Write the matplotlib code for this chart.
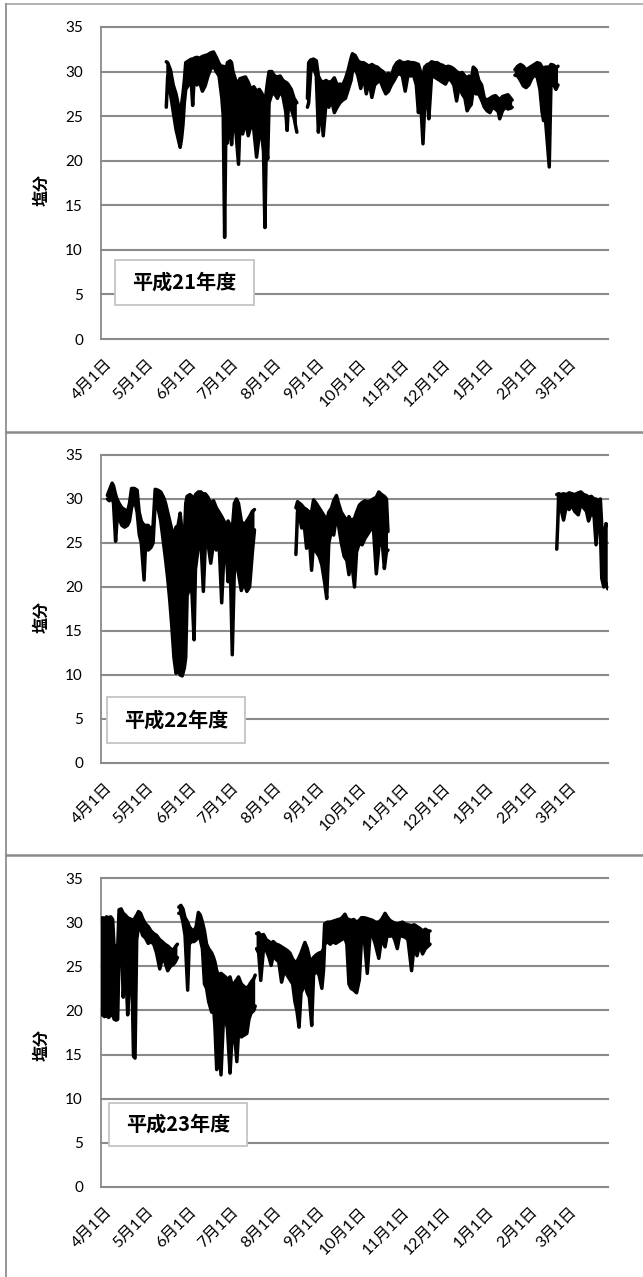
import numpy as np
import matplotlib
matplotlib.use('Agg')
import matplotlib.pyplot as plt
from matplotlib.transforms import ScaledTranslation
from matplotlib.patches import Rectangle
from matplotlib.lines import Line2D

plt.rcParams['font.family'] = ['Lato', 'Noto Sans CJK JP', 'DejaVu Sans']

nan = float('nan')

# ---------------- data ----------------
month_labels = ["4月1日", "5月1日", "6月1日", "7月1日", "8月1日", "9月1日",
                "10月1日", "11月1日", "12月1日", "1月1日", "2月1日", "3月1日"]
month_days = [0, 30, 61, 91, 122, 153, 183, 214, 244, 275, 306, 334]
yticks = [0, 5, 10, 15, 20, 25, 30, 35]
ylabel = "塩分"
year_labels = ["平成21年度", "平成22年度", "平成23年度"]

# days since Apr 1, upper / lower envelope of salinity (nan = no data)
h21_days = [47, 48, 50, 52, 54, 56, 57, 58, 59, 60, 61, 63, 65, 66, 67, 69, 71, 73, 75, 77,
            79, 81, 83, 85, 87, 88, 89, 90, 91, 93, 94, 95, 97, 99, 100, 102, 104, 106, 108,
            110, 112, 114, 116, 117, 118, 119, 120, 121, 123, 125, 127, 129, 131, 133, 134,
            135, 137, 139, 141, 145,
            148.6, 149.5, 151, 153, 155, 156.5, 158, 160, 162, 164, 166, 168, 170, 172, 174,
            176, 178, 180, 181, 183, 185, 187, 189, 191, 193, 195, 197, 199, 201, 203, 205,
            207, 209, 211, 213, 215, 217, 219, 221, 223, 225, 227, 228.5, 230, 231.8, 233,
            235, 236, 238, 240, 242, 244, 246, 248, 250, 252, 254, 256, 258, 260, 262, 263.6,
            265, 266.5, 268, 270, 272, 274, 276, 278, 280, 282, 284, 286, 287, 289, 291, 293,
            295, 296, 297,
            298, 300, 302, 304, 306, 308, 310, 312, 314, 316, 317.5, 318.6, 320, 322.7, 324,
            326, 327.5, 329]
h21_hi = [31.1, 31.0, 30.2, 28.5, 27.5, 26.0, 25.8, 26.3, 27.5, 29.0, 31.0, 31.2, 31.4, 31.3,
          31.5, 31.6, 31.5, 31.7, 31.8, 31.9, 32.1, 32.2, 31.6, 30.9, 30.5, 30.6, 30.5, 30.2,
          31.0, 31.2, 31.0, 30.0, 29.0, 28.8, 29.2, 29.3, 29.4, 28.8, 28.0, 28.3, 27.8, 28.0,
          27.5, 27.0, 26.5, 27.8, 29.0, 30.0, 30.0, 29.5, 29.4, 29.5, 29.0, 28.8, 28.7, 28.5,
          28.0, 27.0, 26.5, nan,
          27.0, 31.0, 31.3, 31.4, 31.2, 29.5, 29.0, 28.8, 29.0, 28.8, 28.9, 29.3, 28.5, 28.6,
          28.5, 29.2, 30.2, 31.5, 32.0, 31.8, 31.2, 31.0, 31.0, 30.8, 30.6, 30.8, 30.6, 30.5,
          30.2, 30.0, 29.6, 29.8, 29.5, 30.5, 31.0, 31.2, 31.0, 31.0, 31.1, 31.0, 31.0, 30.9,
          30.8, 30.0, 29.5, 30.5, 30.8, 30.8, 31.1, 31.0, 31.0, 30.8, 30.7, 30.5, 30.6, 30.5,
          30.3, 30.0, 29.8, 29.9, 29.5, 29.3, 29.5, 29.0, 30.5, 30.2, 29.0, 28.5, 27.0, 26.8,
          27.0, 27.2, 27.3, 27.0, 26.8, 27.2, 27.3, 27.4, 27.0, 26.8, nan,
          30.2, 30.6, 30.8, 30.6, 30.2, 30.4, 30.6, 30.8, 31.0, 30.9, 30.5, 30.3, 30.5, 30.5,
          30.8, 30.7, 30.4, 30.6]
h21_lo = [26.0, 29.5, 27.5, 25.5, 23.5, 22.2, 21.5, 22.5, 24.0, 26.5, 28.0, 28.5, 28.8, 26.2,
          29.0, 28.5, 28.8, 27.8, 28.4, 29.5, 30.3, 30.6, 30.0, 29.5, 27.0, 25.0, 11.4, 25.0,
          22.0, 25.0, 21.8, 24.0, 23.5, 19.6, 24.0, 23.0, 24.5, 22.8, 24.0, 23.5, 20.4, 23.0,
          22.5, 21.0, 12.5, 22.0, 20.2, 26.5, 27.5, 27.5, 27.0, 27.8, 27.2, 25.5, 23.4, 26.5,
          25.8, 24.8, 23.2, nan,
          26.0, 26.5, 30.0, 30.5, 29.5, 23.2, 26.5, 22.8, 26.5, 26.0, 26.8, 25.4, 26.0, 26.5,
          26.8, 27.0, 28.0, 29.0, 30.0, 30.4, 29.5, 28.1, 29.5, 27.5, 29.0, 27.1, 28.5, 28.8,
          29.0, 28.2, 27.5, 27.8, 28.5, 29.0, 29.6, 29.8, 29.5, 27.8, 29.6, 29.5, 29.6, 28.5,
          25.4, 27.0, 21.9, 26.0, 27.0, 24.7, 29.5, 29.4, 29.2, 29.0, 28.8, 28.6, 29.2, 29.0,
          28.5, 26.7, 28.5, 27.5, 27.0, 25.6, 26.0, 26.3, 28.0, 27.5, 27.5, 26.8, 26.0, 25.6,
          25.4, 26.0, 25.8, 25.5, 24.7, 25.6, 26.0, 25.8, 25.9, 26.0, nan,
          29.6, 29.5, 29.0, 28.4, 28.2, 28.5, 29.2, 29.6, 29.4, 28.0, 25.5, 24.5, 24.6, 19.3,
          29.0, 28.5, 28.0, 28.5]

h22_days = [4.6, 6, 8, 9, 10.5, 11.5, 13, 15, 17, 19, 20.5, 22, 24, 26, 27.5, 29, 31, 32, 34,
            36, 37.5, 39, 41, 43, 45, 46.5, 48, 49.5, 51, 52.5, 54, 55.5, 57, 58.5, 60, 61, 62,
            64, 65.5, 67, 68, 70, 72, 73.7, 75, 77, 79, 81, 83, 85, 86.9, 88.5, 90, 91.5, 93,
            94.5, 96, 97.5, 99, 101, 103, 105, 107, 109, 110.5, 120,
            140.3, 141.5, 143, 144.5, 146, 148, 150, 151.6, 153, 155, 157, 159, 161, 162.5,
            164, 166, 167.5, 169.5, 171, 173, 175, 177, 178.5, 180, 182.5, 184, 186, 188, 190,
            192, 194, 196, 198.2, 200, 202, 204, 205.5, 206.6, 250,
            328.1, 329.5, 331, 333, 335, 337, 339, 341, 343.6, 345.5, 347.5, 349.5, 351, 353,
            355, 356.4, 358, 359.5, 360.5, 362, 363.5, 364.8]
h22_hi = [30.4, 31.0, 31.8, 31.5, 30.5, 30.0, 29.5, 29.0, 28.8, 28.5, 29.5, 31.2, 31.2, 31.0,
          28.5, 27.5, 27.0, 27.0, 27.0, 26.5, 27.0, 31.1, 31.0, 30.8, 30.2, 29.5, 28.5, 27.5,
          26.5, 26.0, 26.8, 27.0, 28.4, 26.0, 25.5, 29.5, 30.3, 30.5, 30.3, 29.5, 30.5, 30.8,
          30.8, 30.5, 30.6, 30.2, 29.5, 29.8, 29.0, 28.5, 28.0, 27.5, 27.0, 27.5, 27.0, 26.5,
          29.5, 30.0, 29.5, 27.5, 27.0, 27.5, 28.0, 28.6, 28.8, nan,
          29.0, 29.7, 29.5, 29.3, 29.0, 28.8, 28.5, 28.5, 29.9, 29.5, 29.0, 28.5, 28.0, 27.5,
          28.5, 29.0, 29.8, 30.4, 29.5, 28.5, 28.0, 27.5, 28.0, 27.5, 27.8, 28.5, 29.3, 29.6,
          29.8, 29.7, 29.8, 30.0, 30.2, 30.8, 30.5, 30.3, 30.0, 26.3, nan,
          30.5, 30.6, 30.5, 30.6, 30.5, 30.7, 30.6, 30.5, 30.7, 30.8, 30.5, 30.4, 30.2, 30.3,
          30.0, 30.0, 29.8, 30.0, 27.0, 25.0, 27.2, 27.0]
h22_lo = [30.0, 29.8, 30.2, 29.5, 25.2, 27.5, 27.8, 27.0, 26.8, 27.0, 27.5, 29.0, 30.0, 28.5,
          26.0, 25.0, 20.8, 24.5, 24.2, 24.5, 25.0, 29.5, 29.0, 27.5, 25.0, 23.1, 21.0, 18.5,
          15.5, 12.0, 10.2, 10.5, 10.0, 9.9, 10.8, 12.0, 19.0, 20.0, 19.3, 14.0, 22.0, 24.5,
          25.0, 19.5, 24.5, 25.0, 22.7, 25.0, 24.2, 25.0, 18.2, 23.8, 24.5, 20.6, 23.0, 12.3,
          22.0, 22.5, 21.5, 19.6, 20.5, 19.5, 20.0, 24.0, 26.5, nan,
          23.7, 28.5, 28.0, 26.7, 27.5, 24.4, 25.5, 21.9, 25.0, 24.0, 23.5, 22.5, 20.5, 18.7,
          25.0, 26.5, 25.9, 28.0, 27.0, 25.0, 23.5, 23.0, 21.4, 23.5, 20.0, 24.0, 25.0, 24.8,
          25.5, 26.0, 26.5, 27.0, 21.5, 24.5, 26.0, 22.1, 24.0, 24.2, nan,
          24.3, 29.8, 29.0, 27.6, 29.2, 28.8, 29.3, 28.6, 28.2, 29.4, 29.0, 28.6, 27.5, 28.5,
          28.0, 24.8, 28.0, 26.5, 21.0, 20.0, 20.5, 19.8]

h23_days = [0, 1, 2.5, 4, 5.5, 7, 8.4, 9.5, 11, 12, 13, 14.5, 16, 17.5, 19.2, 20.5, 22, 23.4,
            24.5, 25.7, 27, 28.5, 30, 32, 34, 36, 38, 40, 42.3, 44, 46, 48, 50, 52, 53.5, 55,
            55.5,
            56, 57.5, 59, 60.5, 62.4, 63.5, 65, 67, 68.5, 70.1, 71.5, 73, 74.5, 76, 77.5, 79.7,
            81, 82, 83.3, 84.5, 86.4, 88, 89.5, 91, 92.9, 94, 95.5, 97.8, 99, 101, 103, 105,
            106.5, 108, 110, 111, 111.5,
            112, 113.5, 115, 117, 119, 121, 122.5, 124, 126, 128, 130, 132, 134, 136, 138,
            139.6, 141, 142.6, 144, 146.8, 148.5, 150, 151.7, 153, 155, 157, 159, 160.2, 161,
            163, 165, 167, 169, 171, 173, 175.6, 177, 178.5, 180, 182, 184, 186, 187.5, 189.5,
            191.7, 193.6, 195.5, 197.5, 200, 202, 204.5, 206, 208, 210, 211.5, 213.3, 215, 217,
            219, 221, 223.6, 225.5, 227.5, 229.5, 231.5, 233.5, 235.5, 236.9]
h23_hi = [30.0, 30.5, 30.4, 30.6, 30.5, 30.6, 30.3, 27.0, 27.3, 27.0, 31.4, 31.5, 31.0, 30.8,
          30.5, 30.4, 30.3, 30.0, 30.5, 30.8, 31.2, 31.0, 30.4, 29.8, 29.5, 29.0, 28.7, 28.5,
          28.0, 27.8, 27.5, 27.3, 27.0, 26.8, 27.2, 27.5, nan,
          31.7, 31.9, 31.5, 30.5, 30.0, 29.5, 29.2, 29.0, 29.5, 31.1, 30.8, 30.0, 29.0, 27.5,
          27.0, 26.5, 26.0, 25.5, 24.5, 24.0, 24.2, 24.0, 23.8, 23.5, 23.8, 23.1, 23.0, 23.5,
          23.8, 23.0, 22.7, 22.5, 22.8, 23.2, 23.6, 24.0, nan,
          28.7, 28.8, 28.5, 28.6, 28.0, 27.8, 27.6, 27.8, 27.5, 27.4, 27.2, 27.0, 26.8, 26.5,
          25.8, 25.5, 25.5, 26.0, 26.5, 27.7, 27.0, 26.0, 25.5, 26.0, 26.3, 26.5, 26.6, 27.0,
          29.8, 30.0, 30.0, 30.1, 30.2, 30.3, 30.4, 30.9, 30.4, 30.3, 30.2, 30.3, 30.0, 30.2,
          30.5, 30.5, 30.4, 30.3, 30.2, 30.0, 30.0, 30.3, 31.0, 30.6, 30.2, 30.0, 29.9, 29.8,
          29.9, 30.0, 29.8, 29.7, 29.6, 29.7, 29.5, 29.3, 29.0, 29.2, 29.0, 29.0]
h23_lo = [19.8, 19.5, 19.3, 19.4, 19.2, 19.5, 19.5, 19.0, 18.9, 19.0, 26.5, 29.0, 21.5, 26.0,
          19.5, 23.0, 26.0, 14.8, 14.6, 28.0, 29.5, 29.3, 28.5, 28.2, 27.6, 27.8, 27.5, 26.5,
          24.7, 25.8, 25.5, 24.5, 25.0, 25.2, 25.5, 26.0, nan,
          31.0, 31.0, 30.0, 28.5, 22.3, 27.5, 27.8, 27.8, 28.0, 28.5, 28.0, 27.0, 23.0, 22.5,
          21.0, 19.8, 20.5, 18.2, 13.3, 17.5, 12.7, 18.5, 19.0, 18.0, 12.9, 16.0, 18.5, 14.2,
          17.5, 17.0, 17.2, 17.4, 19.0, 19.7, 20.0, 20.5, nan,
          27.0, 26.5, 23.4, 27.0, 26.8, 26.0, 25.1, 26.3, 25.8, 25.5, 23.2, 24.5, 24.0, 23.5,
          23.0, 21.0, 20.0, 18.1, 22.0, 23.0, 22.0, 21.5, 18.3, 24.0, 24.5, 24.0, 22.5, 24.5,
          27.5, 27.8, 27.5, 27.8, 27.6, 27.8, 28.0, 28.2, 27.5, 23.0, 22.5, 22.3, 22.0, 23.5,
          28.0, 28.2, 24.2, 28.4, 28.5, 27.5, 25.9, 28.2, 27.2, 28.5, 28.4, 28.5, 28.0, 27.0,
          28.5, 28.4, 28.3, 28.0, 24.5, 27.5, 26.2, 27.5, 26.4, 27.0, 27.3, 27.5]

series = [(h21_days, h21_hi, h21_lo), (h22_days, h22_hi, h22_lo), (h23_days, h23_hi, h23_lo)]

# ---------------- layout (pixels) ----------------
W, H = 643, 1277
fig = plt.figure(figsize=(W / 100, H / 100), dpi=100)
fig.patch.set_facecolor('white')

def fx(x):
    return x / W

def fy(y):
    return 1 - y / H

panels = [
    dict(top=27, bottom=339, box=(115, 260, 254, 305), ylab_y=190),
    dict(top=455, bottom=763, box=(107, 697, 245, 743), ylab_y=617),
    dict(top=878, bottom=1187, box=(109, 1103, 247, 1146), ylab_y=1045),
]
AX_L, AX_R = 101, 608
GRID = '#8a8a8a'

for p, (days, hi, lo), ylab_text in zip(panels, series, year_labels):
    ax = fig.add_axes([fx(AX_L), fy(p['bottom']), fx(AX_R - AX_L), (p['bottom'] - p['top']) / H])
    ax.set_xlim(0, 365)
    ax.set_ylim(0, 35)
    for s in ax.spines.values():
        s.set_visible(False)
    for yv in yticks:
        ax.axhline(yv, color=GRID, lw=1.5, clip_on=False, zorder=1)
    ax.axvline(0, color=GRID, lw=1.3, clip_on=False, zorder=1)
    ax.set_yticks(yticks)
    ax.set_yticklabels([str(v) for v in yticks])
    ax.tick_params(axis='y', length=0, pad=13, labelsize=11)
    ax.set_xticks([])

    d = np.array(days, dtype=float)
    h = np.array(hi, dtype=float)
    l = np.array(lo, dtype=float)
    ax.fill_between(d, l, h, color='black', lw=0, zorder=3)
    ax.plot(d, h, color='black', lw=2.5, zorder=4, solid_joinstyle='round', solid_capstyle='round')
    ax.plot(d, l, color='black', lw=2.5, zorder=4, solid_joinstyle='round', solid_capstyle='round')

    off = ScaledTranslation(4 / 100, -18 / 100, fig.dpi_scale_trans)
    for md, ml in zip(month_days, month_labels):
        ax.text(md, 0, ml, transform=ax.get_xaxis_transform() + off, rotation=45,
                rotation_mode='anchor', ha='right', va='top', fontsize=11.5)

    fig.text(fx(41), fy(p['ylab_y']), ylabel, rotation=90, fontsize=11.5, fontweight='bold',
             ha='center', va='center', family=['Noto Sans CJK JP'])

    x0, y0, x1, y1 = p['box']
    fig.add_artist(Rectangle((fx(x0), fy(y1)), fx(x1 - x0), (y1 - y0) / H,
                             transform=fig.transFigure, facecolor='white',
                             edgecolor='#c4c4c4', lw=1.3, zorder=5))
    fig.text(fx((x0 + x1) / 2), fy((y0 + y1) / 2), ylab_text, fontsize=14.5, fontweight='bold',
             ha='center', va='center', family=['Noto Sans CJK JP'], zorder=6)

# outer frame / separators
fig.add_artist(Line2D([fx(6), 1], [fy(4), fy(4)], color='#a5a5a5', lw=1.2))
fig.add_artist(Line2D([fx(6), fx(6)], [0, fy(4)], color='#8f8f8f', lw=1.3))
for ys in (432, 855):
    fig.add_artist(Line2D([fx(6), 1], [fy(ys), fy(ys)], color='#8a8a8a', lw=1.8))

fig.savefig('out.png', dpi=100, facecolor='white')
